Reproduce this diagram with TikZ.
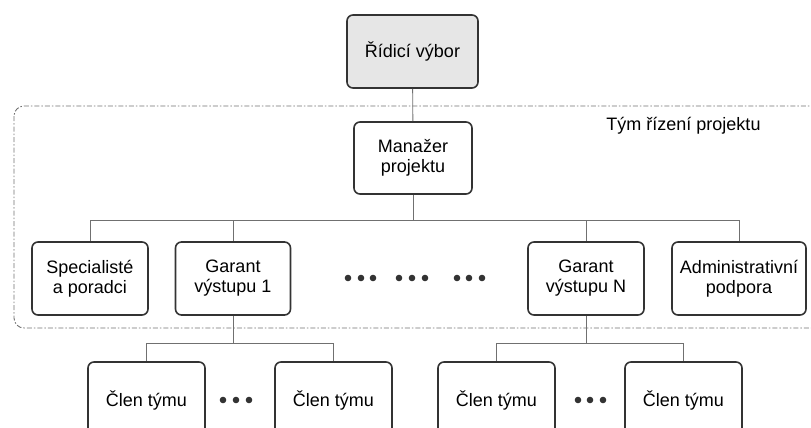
\documentclass[tikz,border=0pt]{standalone}
\usepackage{fontspec}
\setmainfont{Liberation Sans}
\definecolor{boxline}{HTML}{333333}
\definecolor{linkline}{HTML}{707070}
\definecolor{headfill}{HTML}{E6E6E6}
\begin{document}
\begin{tikzpicture}[x=1pt,y=-1pt,
	unit/.style={draw=boxline,line width=1.6pt,rounded corners=6pt,align=center,
		font=\fontsize{18}{20}\selectfont,inner sep=0pt},
	link/.style={draw=linkline,line width=0.9pt},
	teamframe/.style={draw=linkline,line width=0.9pt,rounded corners=10pt,
		dash pattern=on 5pt off 2pt on 1.5pt off 2pt}]
\useasboundingbox (0,0) rectangle (811,428);
% team frame
\draw[teamframe] (14,106) rectangle (840,328);
\node[font=\fontsize{18}{20}\selectfont] (tym) at (683.5,126) {Tým řízení projektu};
% boxes
\node[unit,fill=headfill,minimum width=131,minimum height=73] (ridici) at (412.5,51.5) {Řídicí výbor};
\node[unit,minimum width=118,minimum height=72] (manazer) at (413,158) {Manažer\\projektu};
\node[unit,minimum width=116,minimum height=73] (spec) at (90,278.5) {Specialisté\\a poradci};
\node[unit,minimum width=115,minimum height=73] (garant1) at (233,278.5) {Garant\\výstupu 1};
\node[unit,minimum width=116,minimum height=73] (garantN) at (586,278.5) {Garant\\výstupu N};
\node[unit,minimum width=134,minimum height=73] (admin) at (739,278.5) {Administrativní\\podpora};
\node[unit,minimum width=117,minimum height=76] (clen1) at (146.5,400) {Člen týmu};
\node[unit,minimum width=117,minimum height=76] (clen2) at (333.5,400) {Člen týmu};
\node[unit,minimum width=117,minimum height=76] (clen3) at (496.5,400) {Člen týmu};
\node[unit,minimum width=117,minimum height=76] (clen4) at (683.5,400) {Člen týmu};
% connectors
\draw[link] (ridici) -- (manazer);
\foreach \n in {spec,garant1,garantN,admin}{
	\draw[link] (manazer.south) -- ++(0,26) -| (\n.north);}
\foreach \n in {clen1,clen2}{
	\draw[link] (garant1.south) -- ++(0,28) -| (\n.north);}
\foreach \n in {clen3,clen4}{
	\draw[link] (garantN.south) -- ++(0,28) -| (\n.north);}
% dots
\foreach \x in {348,361,373,399,412,425,457,469,482}{
	\fill[boxline] (\x,278) circle (3.3pt);}
\foreach \x in {223,236,249,578,590,603}{
	\fill[boxline] (\x,400) circle (3.3pt);}
\end{tikzpicture}
\end{document}
